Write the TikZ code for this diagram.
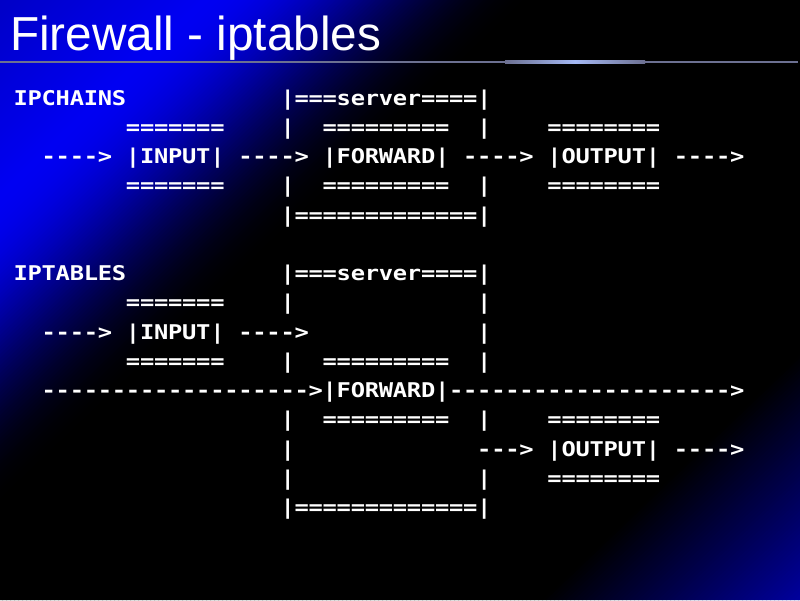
\documentclass[tikz,border=0pt]{standalone}
\usepackage{graphicx}
\usepackage{fontspec}
\newfontfamily\titlefont{Liberation Sans}
\newfontfamily\asciifont{DejaVu Sans Mono}
\newlength\cw \setlength\cw{14.05pt}
\def\celloop#1{\ifx#1\relax\else\ifx#1.\hbox to\cw{}\else\hbox to\cw{\hss\scalebox{1.17}[1]{#1}\hss}\fi\expandafter\celloop\fi}
\newcommand\cells[1]{\celloop#1\relax}
\definecolor{barcol}{RGB}{108,112,145}
\definecolor{barhi}{RGB}{165,185,245}
\tikzset{
  asc/.style={anchor=base west, inner sep=0pt, text=white,
    font=\asciifont\bfseries\fontsize{20.3}{24}\selectfont},
  ttl/.style={anchor=base west, inner sep=0pt, text=white,
    font=\titlefont\fontsize{47.7}{52}\selectfont}
}
\begin{document}
\begin{tikzpicture}[x=1pt,y=-1pt]
\useasboundingbox (0,0) rectangle (800,600);
\fill[black] (0,0) rectangle (800,600);
\begin{scope}
\clip (0,0) rectangle (800,600);
\foreach \s in {0,4,...,1432} {
  \ifnum\s<200
    \pgfmathsetmacro\v{78+17*(\s/200)}
  \else\ifnum\s<530
    \pgfmathsetmacro\v{95*(0.5+0.5*cos(180*((\s-200)/330)))}
  \else\ifnum\s<1170
    \def\v{0}
  \else
    \pgfmathsetmacro\v{min(62,62*((\s-1170)/260))}
  \fi\fi\fi
  \fill[blue!\v!black] (\s,0) -- (\s+5,0) -- ({\s+5-630},600) -- ({\s-630},600) -- cycle;
}
\end{scope}
% title bar
\draw[line width=2.2pt, barcol] (0,62) -- (798,62);
\shade[left color=barcol, right color=barcol, middle color=barhi] (505,60.9) rectangle (645,63.1);
\node[ttl] (title) at (10,50) {Firewall - iptables};
% ipchains
\node[asc] (l1)  at (13.5,105.00) {\cells{IPCHAINS...........|===server====|}};
\node[asc] (l2)  at (13.5,134.25) {\cells{........=======....|..=========..|....========}};
\node[asc] (l3)  at (13.5,163.50) {\cells{..---->.|INPUT|.---->.|FORWARD|.---->.|OUTPUT|.---->}};
\node[asc] (l4)  at (13.5,192.75) {\cells{........=======....|..=========..|....========}};
\node[asc] (l5)  at (13.5,222.00) {\cells{...................|=============|}};
% iptables
\node[asc] (l7)  at (13.5,280.50) {\cells{IPTABLES...........|===server====|}};
\node[asc] (l8)  at (13.5,309.75) {\cells{........=======....|.............|}};
\node[asc] (l9)  at (13.5,339.00) {\cells{..---->.|INPUT|.---->............|}};
\node[asc] (l10) at (13.5,368.25) {\cells{........=======....|..=========..|}};
\node[asc] (l11) at (13.5,397.50) {\cells{..------------------->|FORWARD|-------------------->}};
\node[asc] (l12) at (13.5,426.75) {\cells{...................|..=========..|....========}};
\node[asc] (l13) at (13.5,456.00) {\cells{...................|.............--->.|OUTPUT|.---->}};
\node[asc] (l14) at (13.5,485.25) {\cells{...................|.............|....========}};
\node[asc] (l15) at (13.5,514.50) {\cells{...................|=============|}};
\end{tikzpicture}
\end{document}
